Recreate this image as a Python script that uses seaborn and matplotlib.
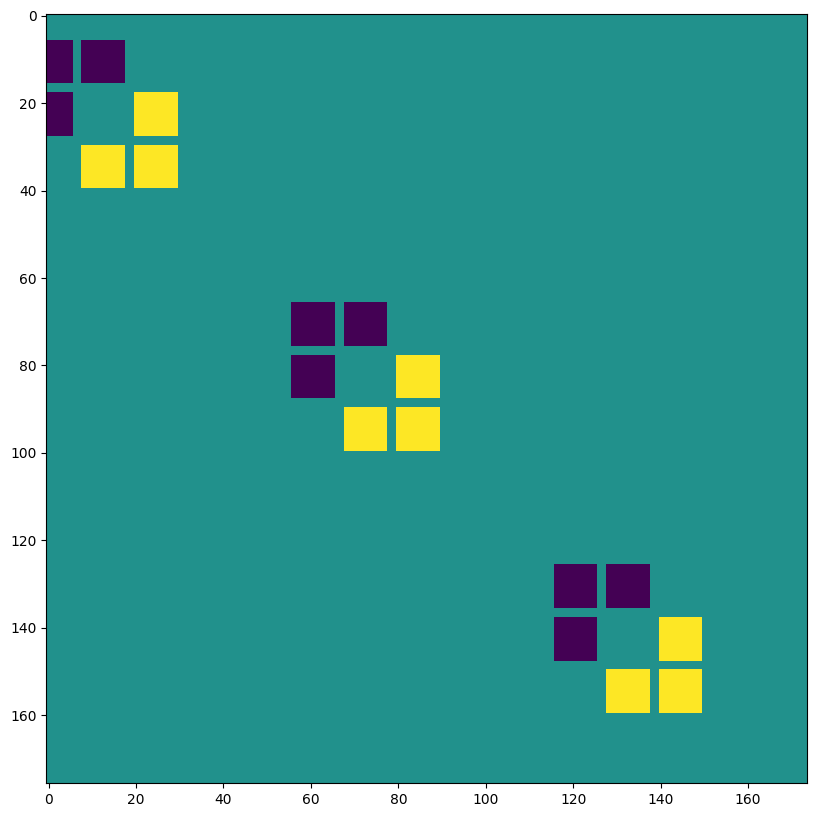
import numpy as np
import matplotlib
matplotlib.use("Agg")
import matplotlib.pyplot as plt
import seaborn as sns

# matrix size (rows, cols)
n_rows = 176
n_cols = 174

# 3x3 block pattern: -1 = dark, 0 = background, 1 = bright
pattern = [[-1, -1, 0],
           [-1, 0, 1],
           [0, 1, 1]]

# top-left (row, col) of each pattern copy
block_rows = [6, 66, 126]
block_cols = [-4, 56, 116]
cell_size = 10
cell_gap = 2

tick_vals_x = [0, 20, 40, 60, 80, 100, 120, 140, 160]
tick_vals_y = [0, 20, 40, 60, 80, 100, 120, 140, 160]

# build the matrix
mat = np.zeros((n_rows, n_cols))
pitch = cell_size + cell_gap
for r0, c0 in zip(block_rows, block_cols):
    for i, row in enumerate(pattern):
        for j, v in enumerate(row):
            if v == 0:
                continue
            rs = r0 + i * pitch
            cs = c0 + j * pitch
            mat[max(rs, 0):rs + cell_size, max(cs, 0):cs + cell_size] = v

fig = plt.figure(figsize=(8.17, 8.17), dpi=100)
ax = fig.add_axes([46.3 / 817, 34 / 817, 761 / 817, 769.5 / 817])

sns.heatmap(mat, ax=ax, cmap="viridis", vmin=-1, vmax=1, cbar=False,
            square=True, xticklabels=False, yticklabels=False)

# imshow-like ticks (cell centres)
ax.set_xticks([v + 0.5 for v in tick_vals_x])
ax.set_xticklabels([str(v) for v in tick_vals_x], rotation=0)
ax.set_yticks([v + 0.5 for v in tick_vals_y])
ax.set_yticklabels([str(v) for v in tick_vals_y], rotation=0)
ax.tick_params(length=3.5, width=0.8, labelsize=10)

for s in ax.spines.values():
    s.set_visible(True)
    s.set_linewidth(0.8)
    s.set_color("black")

fig.savefig("out.png", dpi=100)
